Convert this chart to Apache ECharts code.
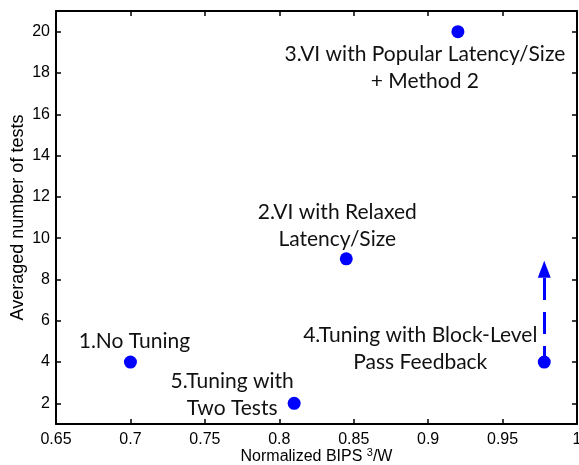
<!DOCTYPE html>
<html>
<head>
<meta charset="utf-8">
<script src="https://cdn.jsdelivr.net/npm/echarts@6/dist/echarts.min.js"></script>
<style>
  html, body { margin: 0; padding: 0; background: #fff; }
  #chart { width: 579px; height: 465px; }
</style>
</head>
<body>
<div id="chart"></div>
<script>
// data
var xValues = [0.70, 0.845, 0.92, 0.978, 0.81];
var yValues = [4, 9, 20, 4, 2];
var pointNames = [
  '1.No Tuning',
  '2.VI with Relaxed\nLatency/Size',
  '3.VI with Popular Latency/Size\n+ Method 2',
  '4.Tuning with Block-Level\nPass Feedback',
  '5.Tuning with\nTwo Tests'
];
var labelOffsets = [[4, -21], [-9, -33], [-33, 36], [-124, -13], [-62, -9]];
var arrowFrom = [0.978, 4];
var arrowTo = [0.978, 8.5];
var xTicks = [0.65, 0.7, 0.75, 0.8, 0.85, 0.9, 0.95, 1];
var yTicks = [2, 4, 6, 8, 10, 12, 14, 16, 18, 20];

var labelFont = 'Lato';
var axisFont = 'Liberation Sans';

var points = xValues.map(function (x, i) {
  return {
    value: [x, yValues[i]],
    label: {
      show: true,
      formatter: pointNames[i],
      position: 'inside',
      offset: labelOffsets[i]
    }
  };
});

function boxAxis(extra) {
  var base = {
    axisLine: { show: true, onZero: false, lineStyle: { color: '#000', width: 2 } },
    axisTick: { show: true, inside: true, length: 5, lineStyle: { color: '#000', width: 1.5 } },
    axisLabel: { show: true, color: '#000', fontFamily: axisFont, fontSize: 16 },
    splitLine: { show: false }
  };
  return Object.assign(base, extra);
}

var chart = echarts.init(document.getElementById('chart'));
chart.setOption({
  animation: false,
  grid: { left: 56, right: 2, top: 11, bottom: 41, outerBoundsMode: 'none', containLabel: false },
  xAxis: [
    boxAxis({
      type: 'value', min: 0.65, max: 1, position: 'bottom',
      name: 'Normalized BIPS {sup|3}/W',
      nameLocation: 'middle', nameGap: 23, nameMoveOverlap: false,
      nameTextStyle: {
        color: '#000', fontFamily: axisFont, fontSize: 16,
        rich: { sup: { fontSize: 11, verticalAlign: 'bottom', padding: [0, 0, 9, 0], fontFamily: axisFont, color: '#000' } }
      },
      axisLabel: {
        color: '#000', fontFamily: axisFont, fontSize: 16, margin: 8,
        customValues: xTicks,
        formatter: function (v) { return String(+v.toFixed(2)); }
      },
      axisTick: { show: true, inside: true, length: 5, customValues: xTicks, lineStyle: { color: '#000', width: 1.5 } }
    }),
    boxAxis({
      type: 'value', min: 0.65, max: 1, position: 'top',
      axisLabel: { show: false },
      axisTick: { show: true, inside: true, length: 5, customValues: xTicks, lineStyle: { color: '#000', width: 1.5 } }
    })
  ],
  yAxis: [
    boxAxis({
      type: 'value', min: 1, max: 21, position: 'left',
      name: 'Averaged number of tests',
      nameLocation: 'middle', nameGap: 29, nameRotate: 90, nameMoveOverlap: false,
      nameTextStyle: { color: '#000', fontFamily: axisFont, fontSize: 18 },
      axisLabel: { color: '#000', fontFamily: axisFont, fontSize: 16, margin: 6, customValues: yTicks },
      axisTick: { show: true, inside: true, length: 5, customValues: yTicks, lineStyle: { color: '#000', width: 1.5 } }
    }),
    boxAxis({
      type: 'value', min: 1, max: 21, position: 'right',
      axisLabel: { show: false },
      axisTick: { show: true, inside: true, length: 5, customValues: yTicks, lineStyle: { color: '#000', width: 1.5 } }
    })
  ],
  series: [{
    type: 'scatter',
    xAxisIndex: 0,
    yAxisIndex: 0,
    symbol: 'circle',
    symbolSize: 13,
    itemStyle: { color: '#0000ff', opacity: 1 },
    label: {
      color: '#111', fontFamily: labelFont, fontSize: 21, lineHeight: 27,
      align: 'center', verticalAlign: 'middle'
    },
    emphasis: { disabled: true },
    data: points,
    markLine: {
      silent: true,
      symbol: ['none', 'triangle'],
      symbolSize: [13, 17],
      label: { show: false },
      lineStyle: { color: '#0000ff', width: 3, type: [22, 12], dashOffset: 6 },
      data: [[{ coord: arrowFrom }, { coord: arrowTo }]]
    }
  }]
});
</script>
</body>
</html>
